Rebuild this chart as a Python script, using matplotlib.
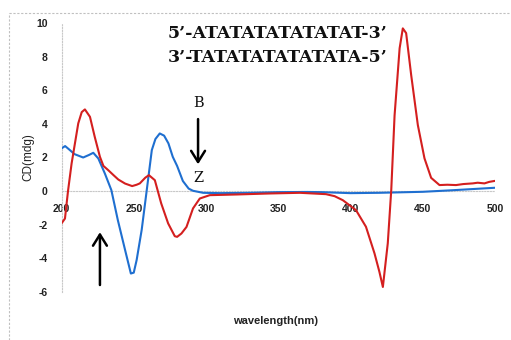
import matplotlib
matplotlib.use("Agg")
import matplotlib.pyplot as plt
from matplotlib.lines import Line2D

# ---- data ----
blue_wl = [200, 202.5, 205, 209, 215, 219, 222, 225.5, 230, 234.5, 239, 244, 248,
           250, 252, 255.5, 259, 262.5, 265, 268, 271, 274, 277, 280, 284, 288,
           291, 298, 310, 330, 350, 370, 380, 400, 420, 430, 450, 470, 490, 500]
blue_cd = [2.54, 2.68, 2.5, 2.2, 2.0, 2.15, 2.28, 1.94, 1.05, 0.06, -1.73, -3.5, -4.9,
           -4.85, -4.1, -2.3, 0.06, 2.44, 3.1, 3.43, 3.3, 2.84, 2.04, 1.5, 0.6, 0.15,
           0.02, -0.1, -0.12, -0.1, -0.06, -0.05, -0.06, -0.12, -0.1, -0.08, -0.04,
           0.05, 0.15, 0.2]

red_wl = [200, 202.4, 204.5, 207, 211.6, 214, 216.2, 219.7, 223, 226.6, 229, 232.3,
          236, 239.3, 244, 248.9, 252, 254.2, 258, 260.5, 264.6, 269, 273.8, 278.4,
          280, 283, 286.5, 291, 295.7, 302.6, 321, 344, 365, 383, 389, 394.7, 403.8,
          410.7, 416.6, 420, 422.4, 425.8, 428.2, 430.5, 434, 436.2, 438.5, 442,
          446.6, 451.2, 455.8, 461.6, 467, 473, 478, 484.6, 488, 492.7, 496, 500]
red_cd = [-1.92, -1.63, 0.0, 1.65, 4.03, 4.7, 4.86, 4.42, 3.23, 2.04, 1.5, 1.25,
          0.95, 0.69, 0.45, 0.3, 0.38, 0.46, 0.8, 0.95, 0.65, -0.73, -1.92, -2.68,
          -2.72, -2.52, -2.13, -1.03, -0.44, -0.24, -0.2, -0.14, -0.1, -0.18, -0.3,
          -0.54, -1.13, -2.12, -3.7, -4.8, -5.7, -3.1, 0.06, 4.5, 8.5, 9.68, 9.4,
          6.9, 3.93, 1.95, 0.79, 0.36, 0.38, 0.36, 0.42, 0.46, 0.5, 0.46, 0.55, 0.61]

x_ticks = [200, 250, 300, 350, 400, 450, 500]
y_ticks = [-6, -4, -2, 0, 2, 4, 6, 8, 10]
seq_lines = ["5\u2019-ATATATATATATAT-3\u2019", "3\u2019-TATATATATATATA-5\u2019"]

W, H = 511, 340
fig = plt.figure(figsize=(W / 100, H / 100), dpi=100)
ax = fig.add_axes([61.5 / W, 1 - 292 / H, (495 - 61.5) / W, (292 - 23) / H])

ax.plot(blue_wl, blue_cd, color="#1f6fd0", lw=1.5, zorder=3)
ax.plot(red_wl, red_cd, color="#d41f1f", lw=1.5, zorder=4)

ax.set_xlim(200, 500)
ax.set_ylim(-6, 10)

for s in ["top", "right"]:
    ax.spines[s].set_visible(False)
ax.spines["bottom"].set_position(("data", 0))
for s in ["bottom", "left"]:
    ax.spines[s].set_color("#c8c8c8")
    ax.spines[s].set_linestyle((0, (1, 1.5)))
    ax.spines[s].set_linewidth(0.8)

ax.set_xticks(x_ticks)
ax.set_yticks(y_ticks)
ax.set_xticklabels([str(v) for v in x_ticks])
ax.set_yticklabels([str(v) for v in y_ticks])
ax.tick_params(axis="both", length=0, labelsize=7.5, labelcolor="#222222")
ax.tick_params(axis="x", pad=9)
ax.tick_params(axis="y", pad=10)
for lab in ax.get_xticklabels() + ax.get_yticklabels():
    lab.set_fontfamily("Liberation Sans")
    lab.set_fontweight("bold")

# axis titles
fig.text(28 / W, 1 - 157 / H, "CD(mdg)", rotation=90, ha="center", va="center",
         fontsize=8.5, family="Liberation Sans", color="#222222")
fig.text(276 / W, 1 - 321 / H, "wavelength(nm)", ha="center", va="center",
         fontsize=8, family="Liberation Sans", fontweight="bold", color="#222222")

# sequence text
fig.text(168 / W, 1 - 34 / H, seq_lines[0], ha="left", va="center", fontsize=12.5,
         family="DejaVu Serif", fontweight="bold", color="#111111")
fig.text(168 / W, 1 - 57 / H, seq_lines[1], ha="left", va="center", fontsize=12.5,
         family="DejaVu Serif", fontweight="bold", color="#111111")

# B / Z annotations
ax.text(294.5, 5.22, "B", ha="center", va="center", fontsize=10.5,
        family="DejaVu Serif", color="#111111")
ax.text(294.5, 0.76, "Z", ha="center", va="center", fontsize=10.5,
        family="DejaVu Serif", color="#111111")
ax.annotate("", xy=(294.5, 1.43), xytext=(294.5, 4.45),
            arrowprops=dict(arrowstyle="->,head_length=0.8,head_width=0.5",
                            color="black", lw=1.8))
ax.annotate("", xy=(226.6, -2.28), xytext=(226.6, -5.75),
            arrowprops=dict(arrowstyle="->,head_length=0.8,head_width=0.5",
                            color="black", lw=1.8), annotation_clip=False)

# outer dashed frame (top and left)
fig.add_artist(Line2D([9 / W, 510 / W], [1 - 13 / H, 1 - 13 / H],
                      transform=fig.transFigure, color="#c0c0c0", lw=0.8,
                      linestyle=(0, (2, 1.5))))
fig.add_artist(Line2D([9 / W, 9 / W], [0, 1 - 13 / H],
                      transform=fig.transFigure, color="#c0c0c0", lw=0.8,
                      linestyle=(0, (2, 1.5))))

fig.savefig("out.png", dpi=100)
